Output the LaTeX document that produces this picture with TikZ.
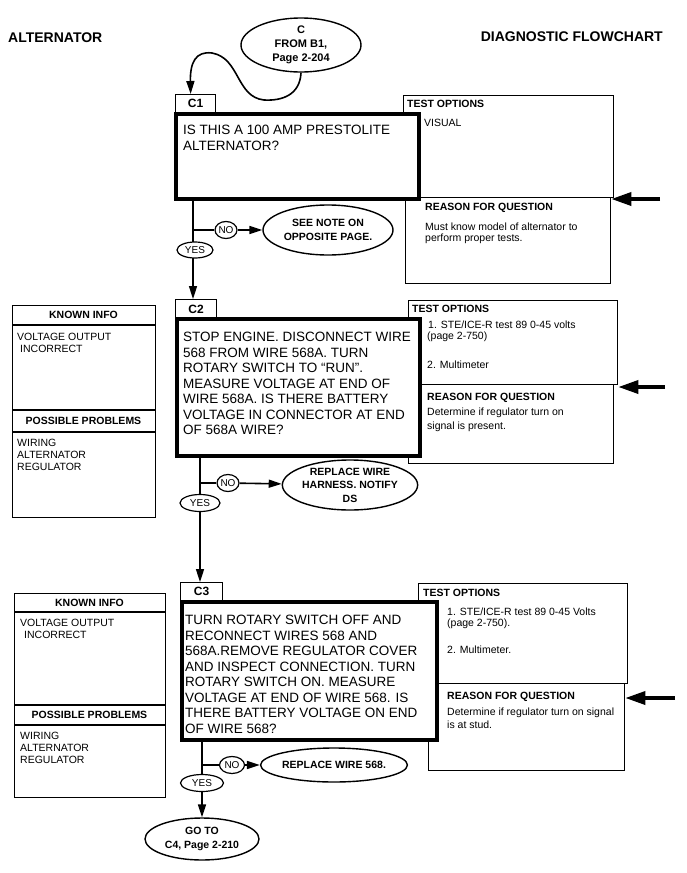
\documentclass[tikz,border=0pt]{standalone}
\usepackage{fontspec}
\setmainfont{Liberation Sans}
\usetikzlibrary{shapes.geometric,arrows.meta,calc}
\tikzset{
 mainbox/.style={draw,line width=3.5pt,fill=white,inner sep=0pt,anchor=north west},
 tabbox/.style={draw,line width=1.3pt,fill=white,inner sep=0pt,anchor=north west,font=\bfseries\fontsize{12}{14}\selectfont},
 sidebox/.style={draw,line width=1.3pt,fill=white,inner sep=0pt,anchor=north west},
 sideline/.style={line width=1.3pt},
 oval/.style={draw,ellipse,line width=1.4pt,inner sep=0pt,align=center,fill=white,font=\bfseries\fontsize{10.5}{13.5}\selectfont},
 tag/.style={draw,ellipse,line width=1.2pt,inner sep=0pt,fill=white,font=\fontsize{10}{12}\selectfont},
 flow/.style={line width=1.6pt},
 arr/.style={line width=1.6pt,-{Triangle[length=13pt,width=8pt]}},
 bigarr/.style={line width=3.5pt,-{Triangle[length=20pt,width=13pt]}},
 txt/.style={anchor=west,inner sep=0pt,font=\fontsize{10.5}{12}\selectfont},
 btxt/.style={anchor=west,inner sep=0pt,font=\bfseries\fontsize{10.5}{12}\selectfont},
 qtext/.style={anchor=north west,inner sep=0pt,align=left,font=\fontsize{13.5}{15.5}\selectfont},
 head/.style={inner sep=0pt,font=\bfseries\fontsize{14}{16}\selectfont},
}
\begin{document}
\begin{tikzpicture}[x=1pt,y=-1pt]
\useasboundingbox (0,0) rectangle (686,873);

% headers
\node[head,anchor=west] (h1) at (8,38) {ALTERNATOR};
\node[head,anchor=east] (h2) at (663,37) {DIAGNOSTIC FLOWCHART};

% start oval
\node[oval,minimum width=120pt,minimum height=54pt,font=\bfseries\fontsize{11}{14}\selectfont] (start) at (301,45) {C\\FROM B1,\\Page 2-204};

% ================= C1 =================
\node[sidebox,minimum width=205pt,minimum height=86pt] (r1) at (405,197) {};
\node[sidebox,minimum width=210pt,minimum height=102pt] (t1) at (403,95) {};
\node[btxt] (t1h) at (407,104) {TEST OPTIONS};
\node[txt] (t1a) at (424,123) {VISUAL};
\node[btxt] (r1h) at (425,208) {REASON FOR QUESTION};
\node[txt] (r1a) at (425,227) {Must know model of alternator to};
\node[txt] (r1b) at (425,239) {perform proper tests.};
\coordinate (a1) at (660,199);
\draw[bigarr] (a1) -- (a1 -| r1.east);

\node[tabbox,minimum width=40pt,minimum height=18pt] (c1tab) at (175,94) {C1};
\node[mainbox,minimum width=243pt,minimum height=85pt] (c1) at (174,112) {};
\node[qtext] (c1q) at (183,125) {IS THIS A 100 AMP PRESTOLITE\\ALTERNATOR?};

\draw[arr] (start.south) .. controls (300,95) and (282,101) .. (264,100)
  .. controls (236,97) and (240,58) .. (212,53)
  .. controls (196,51) and (190,62) .. ([xshift=-5pt]c1tab.north);

% ================= C2 =================
\node[sidebox,minimum width=205pt,minimum height=79pt] (r2) at (408,384) {};
\node[sidebox,minimum width=209pt,minimum height=84pt] (t2) at (408,300) {};
\node[btxt] (t2h) at (412,309) {TEST OPTIONS};
\node[txt] (t2a) at (428,325) {1. STE/ICE-R test 89 0-45 volts};
\node[txt] (t2b) at (427,337) {(page 2-750)};
\node[txt] (t2c) at (427,365) {2. Multimeter};
\node[btxt] (r2h) at (427,398) {REASON FOR QUESTION};
\node[txt] (r2a) at (427,413) {Determine if regulator turn on};
\node[txt] (r2b) at (427,427) {signal is present.};
\coordinate (a2) at (665,387);
\draw[bigarr] (a2) -- (a2 -| t2.east);

\node[sidebox,minimum width=143pt,minimum height=212pt] (k2) at (12,305) {};
\draw[sideline] (k2.west |- 0,325) -- (k2.east |- 0,325);
\draw[sideline] (k2.west |- 0,410) -- (k2.east |- 0,410);
\draw[sideline] (k2.west |- 0,432) -- (k2.east |- 0,432);
\node[btxt,anchor=center] (k2h) at (83.5,315) {KNOWN INFO};
\node[txt] (k2a) at (17,337) {VOLTAGE OUTPUT};
\node[txt] (k2b) at (20,349) {INCORRECT};
\node[btxt,anchor=center] (k2p) at (83.5,421) {POSSIBLE PROBLEMS};
\node[txt] (k2c) at (17,443) {WIRING};
\node[txt] (k2d) at (17,455) {ALTERNATOR};
\node[txt] (k2e) at (17,467) {REGULATOR};

\node[tabbox,minimum width=41pt,minimum height=19pt] (c2tab) at (175,299) {C2};
\node[mainbox,minimum width=243pt,minimum height=137pt] (c2) at (175,317) {};
\node[qtext] (c2q) at (183,332) {STOP ENGINE. DISCONNECT WIRE\\568 FROM WIRE 568A. TURN\\ROTARY SWITCH TO “RUN”.\\MEASURE VOLTAGE AT END OF\\WIRE 568A. IS THERE BATTERY\\VOLTAGE IN CONNECTOR AT END\\OF 568A WIRE?};

% C1 branch
\coordinate (j1) at (193,230);
\node[tag,minimum width=22pt,minimum height=17pt] (no1) at (226,230) {NO};
\node[oval,minimum width=130pt,minimum height=50pt] (note1) at (328,230) {SEE NOTE ON\\OPPOSITE PAGE.};
\draw[arr] (j1 |- c1.south) -- (j1 |- c2tab.north);
\draw[flow] (j1) -- (no1);
\draw[arr] (no1) -- (note1);
\node[tag,minimum width=36pt,minimum height=16pt] (yes1) at (195,250) {YES};

% ================= C3 =================
\node[sidebox,minimum width=196pt,minimum height=87pt] (r3) at (428,683) {};
\node[sidebox,minimum width=209pt,minimum height=100pt] (t3) at (418,583) {};
\node[btxt] (t3h) at (423,593) {TEST OPTIONS};
\node[txt] (t3a) at (447,612) {1. STE/ICE-R test 89 0-45 Volts};
\node[txt] (t3b) at (447,624) {(page 2-750).};
\node[txt] (t3c) at (447,650) {2. Multimeter.};
\node[btxt] (r3h) at (447,697) {REASON FOR QUESTION};
\node[txt] (r3a) at (447,713) {Determine if regulator turn on signal};
\node[txt] (r3b) at (447,725) {is at stud.};
\coordinate (a3) at (675,698);
\draw[bigarr] (a3) -- (a3 -| r3.east);

\node[sidebox,minimum width=151pt,minimum height=204pt] (k3) at (14,593) {};
\draw[sideline] (k3.west |- 0,612) -- (k3.east |- 0,612);
\draw[sideline] (k3.west |- 0,705) -- (k3.east |- 0,705);
\draw[sideline] (k3.west |- 0,725) -- (k3.east |- 0,725);
\node[btxt,anchor=center] (k3h) at (89.5,603) {KNOWN INFO};
\node[txt] (k3a) at (20,623) {VOLTAGE OUTPUT};
\node[txt] (k3b) at (24,635) {INCORRECT};
\node[btxt,anchor=center] (k3p) at (89.5,715) {POSSIBLE PROBLEMS};
\node[txt] (k3c) at (20,736) {WIRING};
\node[txt] (k3d) at (20,748) {ALTERNATOR};
\node[txt] (k3e) at (20,760) {REGULATOR};

\node[tabbox,minimum width=42pt,minimum height=18pt] (c3tab) at (180,582) {C3};
\node[mainbox,minimum width=255pt,minimum height=138pt] (c3) at (180,600) {};
\node[qtext] (c3q) at (185,615) {TURN ROTARY SWITCH OFF AND\\RECONNECT WIRES 568 AND\\568A.REMOVE REGULATOR COVER\\AND INSPECT CONNECTION. TURN\\ROTARY SWITCH ON. MEASURE\\VOLTAGE AT END OF WIRE 568. IS\\THERE BATTERY VOLTAGE ON END\\OF WIRE 568?};

% C2 branch
\coordinate (j2) at (200,483);
\node[tag,minimum width=22pt,minimum height=17pt] (no2) at (228,483) {NO};
\node[oval,minimum width=116pt,minimum height=50pt] (note2) at (350,485) {REPLACE WIRE\\HARNESS. NOTIFY\\DS};
\draw[arr] (j2 |- c2.south) -- (j2 |- c3tab.north);
\draw[flow] (j2) -- (no2);
\draw[arr] (no2) -- (note2);
\node[tag,minimum width=40pt,minimum height=17pt] (yes2) at (200,503) {YES};

% C3 branch
\coordinate (j3) at (202,765);
\node[tag,minimum width=25pt,minimum height=17pt] (no3) at (232,765) {NO};
\node[oval,minimum width=128pt,minimum height=34pt] (note3) at (334,765) {REPLACE WIRE 568.};
\node[oval,minimum width=114pt,minimum height=42pt] (goto) at (202,839) {GO TO\\C4, Page 2-210};
\draw[arr] (j3 |- c3.south) -- (goto.north);
\draw[flow] (j3) -- (no3);
\draw[arr] (no3) -- (note3);
\node[tag,minimum width=43pt,minimum height=17pt] (yes3) at (202,783) {YES};
\end{tikzpicture}
\end{document}
